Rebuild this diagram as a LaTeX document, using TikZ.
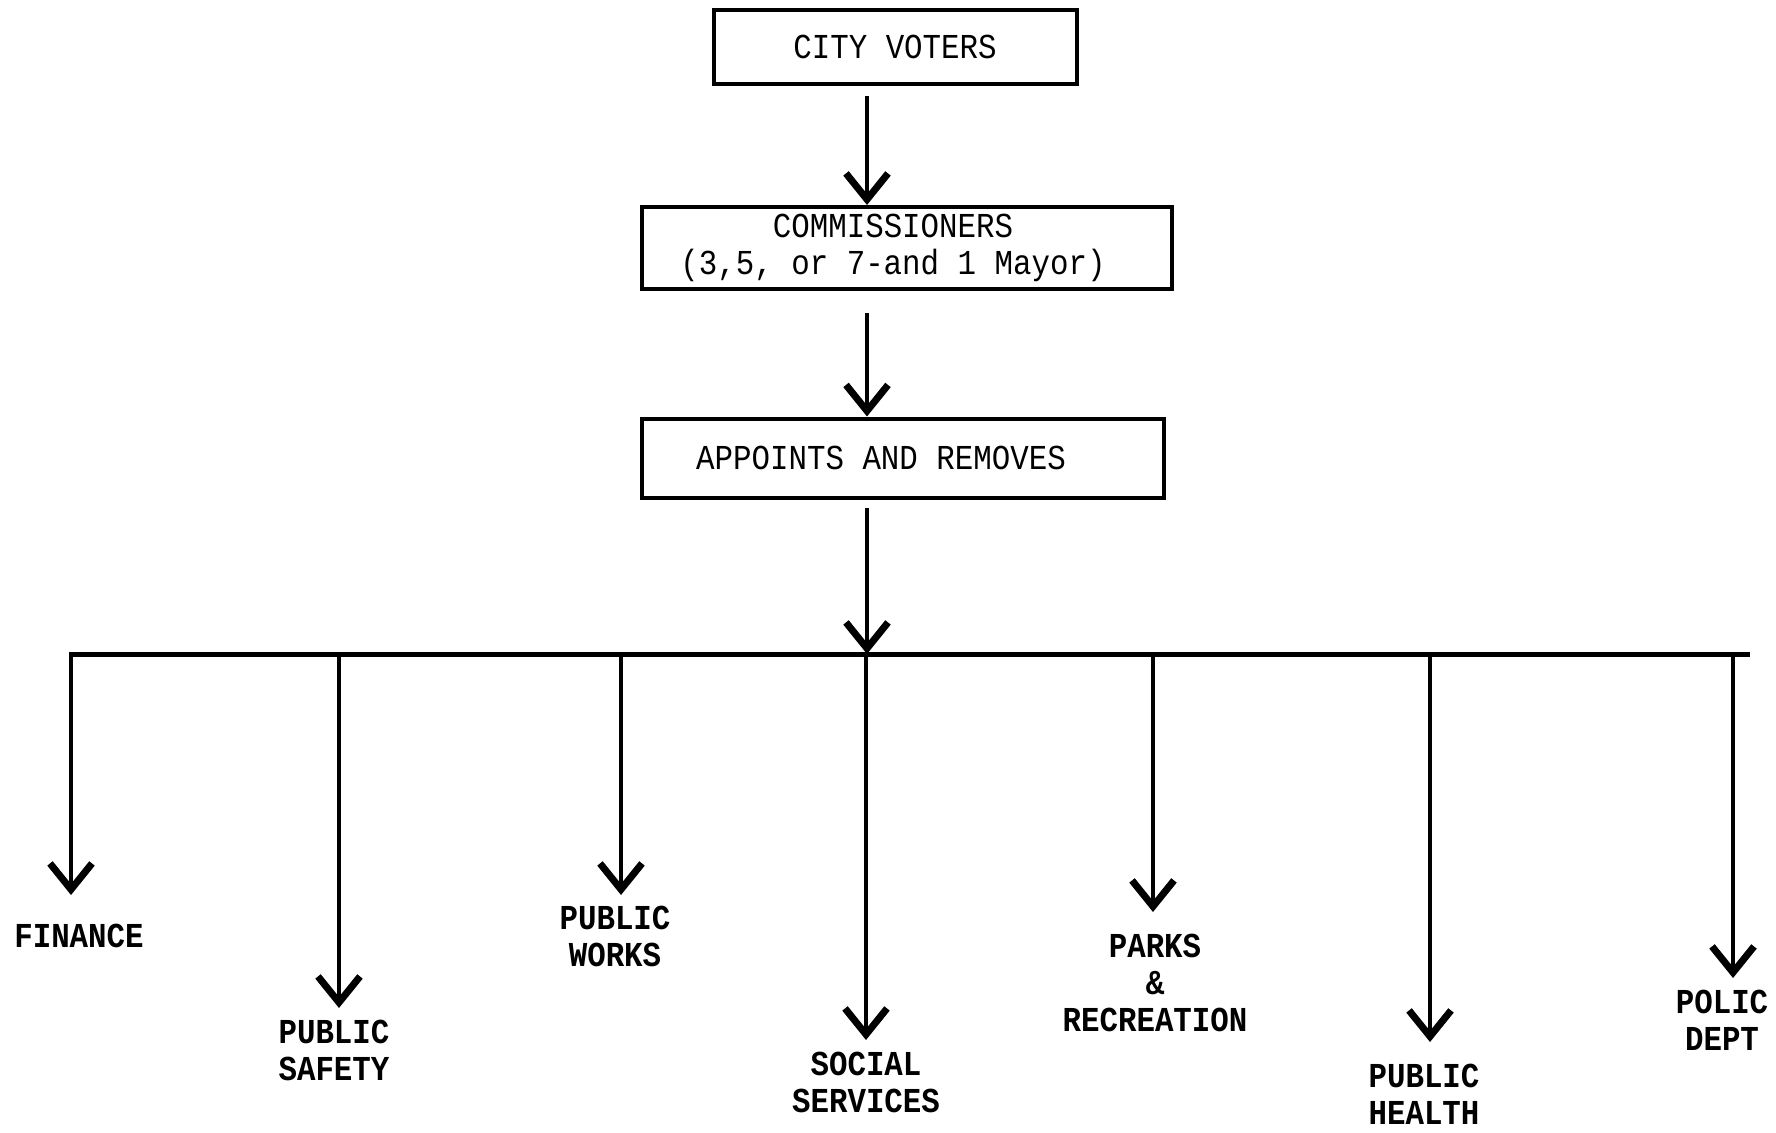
\documentclass[tikz,border=0pt]{standalone}
\usepackage{fontspec}
\newfontfamily\typer[FakeStretch=0.88]{Liberation Mono}
\usetikzlibrary{arrows.meta}

\begin{document}
\begin{tikzpicture}[x=1pt,y=-1pt,
    box/.style={draw,line width=4pt,inner sep=0pt,align=center,
      font=\typer\fontsize{35}{37}\selectfont},
    dept/.style={inner sep=0pt,align=center,
      font=\typer\bfseries\fontsize{35}{37}\selectfont},
    arr/.style={line width=4.5pt,-{Straight Barb[length=26pt,width=42pt,line width=7pt]}}]
    \useasboundingbox (0,0) rectangle (1776,1132);
        \node[box,minimum width=363pt,minimum height=74pt] (voters) at (895,47) {CITY VOTERS};
        \node[box,minimum width=530pt,minimum height=82pt] (comm) at (907,248) {COMMISSIONERS\hspace*{28pt}\\(3,5, or 7-and 1 Mayor)\hspace*{28pt}};
        \node[box,minimum width=522pt,minimum height=79pt] (appoint) at (903,458) {APPOINTS AND REMOVES\hspace*{44pt}};
    % spine down to the bar
        \coordinate (hub) at (867,654);
        \draw[arr,shorten <=10pt] (voters.south -| hub) -- (comm.north -| hub);
        \draw[arr,shorten <=22pt] (comm.south -| hub) -- (appoint.north -| hub);
        \draw[arr,shorten <=8pt] (appoint.south -| hub) -- (hub);
        \coordinate (barL) at (69,654);
        \coordinate (barR) at (1750,654);
        \draw[line width=5pt] (barL) -- (barR);
    % departments
        \foreach \n/\x/\t/\lx/\ly/\txt in {
            fin/71/895/79/936/{FINANCE},
            safety/339/1008/334/1050/{PUBLIC\\SAFETY},
            works/621/895/615/936/{PUBLIC\\WORKS},
            social/866/1040/866/1082/{SOCIAL\\SERVICES},
            parks/1153/912/1155/983/{PARKS\\\&\\RECREATION},
            health/1430/1042/1424/1094/{PUBLIC\\HEALTH},
            police/1733/978/1722/1020/{POLIC\\DEPT}} {
            \node[dept] (\n) at (\lx,\ly) {\txt};
            \coordinate (\n tip) at (\x,\t);
            \draw[arr] (\n tip |- barL) -- (\n tip);
        }
\end{tikzpicture}
\end{document}
